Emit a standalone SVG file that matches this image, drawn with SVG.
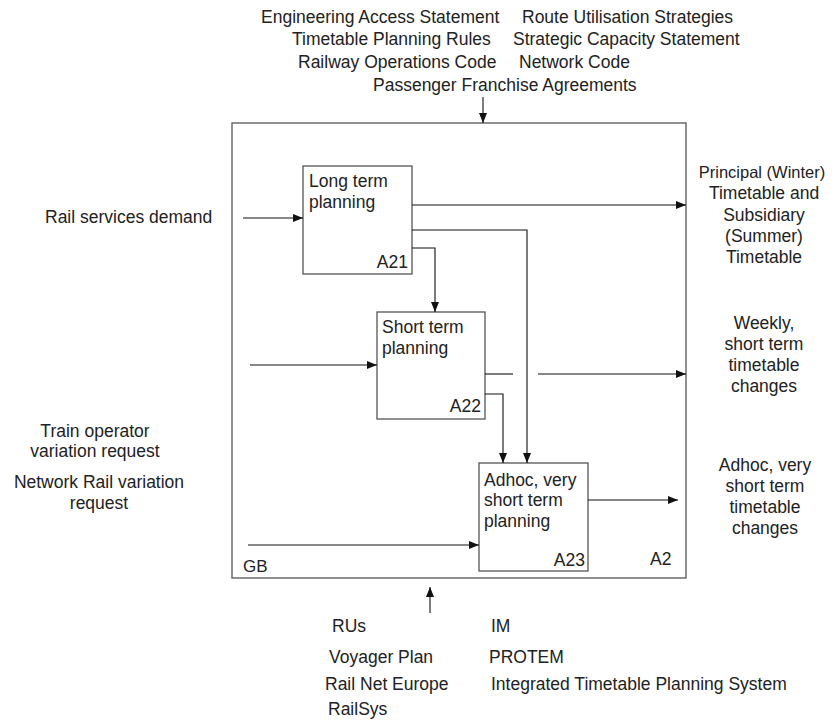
<svg xmlns="http://www.w3.org/2000/svg" width="835" height="720" viewBox="0 0 835 720">
  <style>
    text { font-family: "Liberation Sans", Arial, sans-serif; font-size: 17.5px; fill: #222; }
    .mid { text-anchor: middle; }
    .end { text-anchor: end; }
    .box { fill: #fff; stroke: #555; stroke-width: 1.3; }
    .frame { fill: #fff; stroke: #555; stroke-width: 1.3; }
    .wire { fill: none; stroke: #111; stroke-width: 1.1; }
    .arrow { marker-end: url(#head); }
  </style>
  <defs>
    <marker id="head" viewBox="0 0 10 8" refX="10" refY="4" markerWidth="10" markerHeight="8" markerUnits="userSpaceOnUse" orient="auto">
      <path d="M0,0 L10,4 L0,8 Z" fill="#111"/>
    </marker>
  </defs>
  <rect width="835" height="720" fill="#fff"/>

  <!-- Context frame A2 -->
  <g id="frame-A2">
    <rect class="frame" x="232" y="123" width="454" height="455"/>
    <text x="243" y="572" style="font-size:17px">GB</text>
    <text x="650" y="565">A2</text>
  </g>

  <!-- Controls -->
  <g id="controls">
    <text x="261" y="23">Engineering Access Statement</text>
    <text x="522" y="23">Route Utilisation Strategies</text>
    <text x="292" y="45">Timetable Planning Rules</text>
    <text x="513" y="45">Strategic Capacity Statement</text>
    <text x="298" y="68">Railway Operations Code</text>
    <text x="519" y="68">Network Code</text>
    <text x="373" y="91">Passenger Franchise Agreements</text>
  </g>

  <!-- Inputs -->
  <g id="inputs">
    <text x="45" y="223">Rail services demand</text>
    <text class="mid" x="95" y="437">Train operator</text>
    <text class="mid" x="95" y="457">variation request</text>
    <text class="mid" x="99" y="488">Network Rail variation</text>
    <text class="mid" x="99" y="509">request</text>
  </g>

  <!-- Outputs -->
  <g id="outputs">
    <text class="mid" x="762" y="178" style="font-size:16.5px">Principal (Winter)</text>
    <text class="mid" x="764" y="199">Timetable and</text>
    <text class="mid" x="764" y="221">Subsidiary</text>
    <text class="mid" x="764" y="242">(Summer)</text>
    <text class="mid" x="764" y="263">Timetable</text>
    <text class="mid" x="764" y="329">Weekly,</text>
    <text class="mid" x="764" y="350">short term</text>
    <text class="mid" x="764" y="371">timetable</text>
    <text class="mid" x="764" y="392">changes</text>
    <text class="mid" x="765" y="471">Adhoc, very</text>
    <text class="mid" x="765" y="492">short term</text>
    <text class="mid" x="765" y="513">timetable</text>
    <text class="mid" x="765" y="534">changes</text>
  </g>

  <!-- Mechanisms -->
  <g id="mechanisms">
    <text x="332" y="632">RUs</text>
    <text x="491" y="632">IM</text>
    <text x="329" y="663">Voyager Plan</text>
    <text x="489" y="663">PROTEM</text>
    <text x="325" y="690">Rail Net Europe</text>
    <text x="491" y="690">Integrated Timetable Planning System</text>
    <text x="328" y="715">RailSys</text>
  </g>

  <!-- Activity boxes -->
  <g id="A21">
    <rect class="box" x="303" y="166" width="109" height="108"/>
    <text x="309" y="187">Long term</text>
    <text x="309" y="208">planning</text>
    <text class="end" x="408" y="268">A21</text>
  </g>
  <g id="A22">
    <rect class="box" x="377" y="312" width="108" height="107"/>
    <text x="382" y="333">Short term</text>
    <text x="382" y="354">planning</text>
    <text class="end" x="481" y="412">A22</text>
  </g>
  <g id="A23">
    <rect class="box" x="479" y="463" width="109" height="108"/>
    <text x="484" y="486">Adhoc, very</text>
    <text x="484" y="506">short term</text>
    <text x="484" y="527">planning</text>
    <text class="end" x="585" y="566">A23</text>
  </g>

  <!-- Connectors -->
  <g id="connectors">
    <line class="wire arrow" x1="483" y1="97" x2="483" y2="123"/>
    <line class="wire arrow" x1="430" y1="613" x2="430" y2="587"/>
    <line class="wire arrow" x1="243" y1="218" x2="303" y2="218"/>
    <line class="wire arrow" x1="412" y1="205" x2="686" y2="205"/>
    <polyline class="wire arrow" points="412,230 527,230 527,463"/>
    <polyline class="wire arrow" points="412,248 435,248 435,312"/>
    <line class="wire arrow" x1="250" y1="365" x2="377" y2="365"/>
    <line class="wire" x1="485" y1="374" x2="513" y2="374"/>
    <line class="wire arrow" x1="538" y1="374" x2="686" y2="374"/>
    <polyline class="wire arrow" points="485,394 503,394 503,463"/>
    <line class="wire arrow" x1="588" y1="500" x2="678" y2="500"/>
    <line class="wire arrow" x1="248" y1="545" x2="479" y2="545"/>
  </g>
</svg>
